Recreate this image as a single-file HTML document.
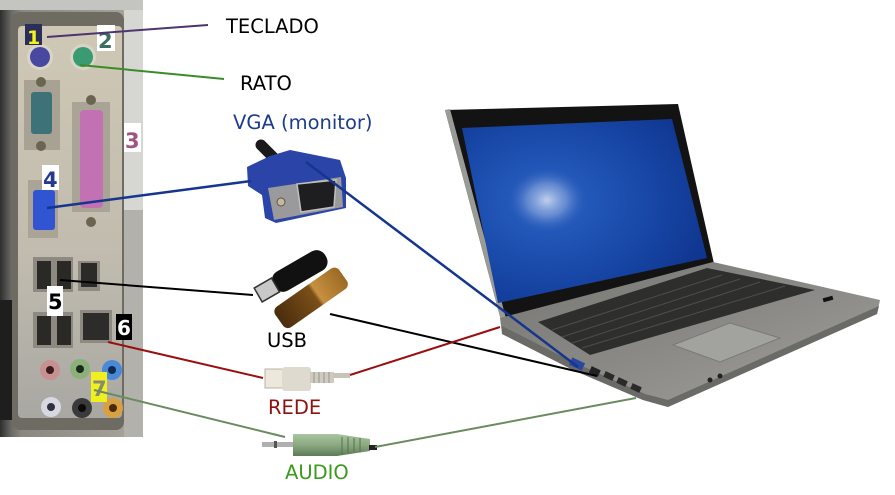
<!DOCTYPE html>
<html><head><meta charset="utf-8"><style>
html,body{margin:0;padding:0;background:#fff;}
svg{display:block;}
text{font-family:"DejaVu Sans","Liberation Sans",sans-serif;}
</style></head><body>
<svg width="895" height="495" viewBox="0 0 895 495" xmlns="http://www.w3.org/2000/svg">
<defs>
<linearGradient id="pl" x1="0" y1="0" x2="1" y2="0">
<stop offset="0" stop-color="#2e2e2c"/><stop offset="0.08" stop-color="#6a6a66"/><stop offset="0.15" stop-color="#8a8780"/><stop offset="1" stop-color="#a9a69e"/>
</linearGradient>
<linearGradient id="plate" x1="0" y1="0" x2="0" y2="1">
<stop offset="0" stop-color="#cfc8b5"/><stop offset="0.6" stop-color="#c0bbae"/><stop offset="1" stop-color="#a8a7a2"/>
</linearGradient>
<radialGradient id="scr" cx="0.35" cy="0.45" r="0.8">
<stop offset="0" stop-color="#2a62c4"/><stop offset="0.5" stop-color="#1848a8"/><stop offset="1" stop-color="#0c2f86"/>
</radialGradient>
<radialGradient id="spot" cx="0.5" cy="0.5" r="0.5">
<stop offset="0" stop-color="#c8d6ee" stop-opacity="0.95"/><stop offset="0.5" stop-color="#8aa6dc" stop-opacity="0.6"/><stop offset="1" stop-color="#2a5ab8" stop-opacity="0"/>
</radialGradient>
<linearGradient id="base" x1="0" y1="0" x2="1" y2="1">
<stop offset="0" stop-color="#767672"/><stop offset="0.5" stop-color="#8a8985"/><stop offset="1" stop-color="#a3a29d"/>
</linearGradient>
<linearGradient id="usbb" x1="0" y1="0" x2="1" y2="0">
<stop offset="0" stop-color="#4a2c0c"/><stop offset="0.55" stop-color="#7a5018"/><stop offset="0.6" stop-color="#c89040"/><stop offset="1" stop-color="#9a6a24"/>
</linearGradient>
<linearGradient id="grn" x1="0" y1="0" x2="0" y2="1">
<stop offset="0" stop-color="#a8c4a0"/><stop offset="0.5" stop-color="#8aaa80"/><stop offset="1" stop-color="#5e7a58"/>
</linearGradient>
</defs>

<!-- PC back panel -->
<rect x="0" y="0" width="143" height="437" fill="url(#pl)"/>
<rect x="0" y="0" width="143" height="10" fill="#c4c4c0"/>
<rect x="0" y="300" width="28" height="120" fill="#1e1e1e"/>
<rect x="12" y="12" width="112" height="418" rx="8" fill="#6e6b62"/>
<rect x="18" y="26" width="104" height="392" rx="4" fill="url(#plate)"/>
<rect x="124" y="10" width="19" height="200" fill="#d6d6d2"/>
<rect x="124" y="210" width="19" height="227" fill="#b2b1ac"/>

<!-- PS2 -->
<circle cx="40" cy="57" r="13" fill="#d8d4c8"/>
<circle cx="40" cy="57" r="10" fill="#4848a0"/>
<circle cx="83" cy="57" r="13" fill="#d8d4c8"/>
<circle cx="83" cy="57" r="10" fill="#3a9a72"/>
<rect x="25" y="24" width="17" height="21" fill="#2a2e5a"/>
<text x="27" y="44" font-size="19" font-weight="bold" fill="#f2f21c">1</text>
<rect x="97" y="25" width="18" height="26" fill="#fff"/>
<text x="98" y="48" font-size="21" font-weight="bold" fill="#3c6c62">2</text>

<!-- serial -->
<rect x="24" y="80" width="36" height="70" fill="#a8a294"/>
<rect x="31" y="92" width="21" height="42" rx="3" fill="#3c7278"/>
<circle cx="41" cy="82" r="5" fill="#6a6450"/>
<circle cx="41" cy="146" r="5" fill="#6a6450"/>

<!-- parallel -->
<rect x="72" y="102" width="38" height="110" fill="#aaa497"/>
<rect x="80" y="110" width="23" height="98" rx="4" fill="#c272b2"/>
<circle cx="91" cy="100" r="5" fill="#6a6450"/>
<circle cx="91" cy="222" r="5" fill="#6a6450"/>
<rect x="124" y="123" width="17" height="29" fill="#fff"/>
<text x="125" y="148" font-size="21" font-weight="bold" fill="#a05482">3</text>

<!-- VGA -->
<rect x="28" y="180" width="30" height="58" fill="#aaa497"/>
<rect x="33" y="190" width="22" height="40" rx="3" fill="#3054d2"/>
<rect x="42" y="165" width="17" height="25" fill="#fff"/>
<text x="43" y="187" font-size="21" font-weight="bold" fill="#263a8e">4</text>

<!-- USB / LAN -->
<rect x="33" y="257" width="40" height="35" fill="#8e8a82"/>
<rect x="37" y="261" width="14" height="28" fill="#2a2926"/>
<rect x="57" y="261" width="14" height="28" fill="#2a2926"/>
<rect x="78" y="261" width="22" height="30" fill="#8e8a82"/>
<rect x="81" y="263" width="16" height="24" fill="#2c2a28"/>
<rect x="33" y="312" width="40" height="36" fill="#8e8a82"/>
<rect x="37" y="316" width="14" height="29" fill="#2a2926"/>
<rect x="57" y="316" width="14" height="29" fill="#2a2926"/>
<rect x="80" y="310" width="32" height="33" fill="#8e8a82"/>
<rect x="83" y="313" width="26" height="27" fill="#2e2c2a"/>
<rect x="47" y="286" width="16" height="30" fill="#fff"/>
<text x="48" y="309" font-size="21" font-weight="bold" fill="#000">5</text>
<rect x="116" y="314" width="16" height="26" fill="#000"/>
<text x="117" y="335" font-size="20" font-weight="bold" fill="#fff">6</text>

<!-- audio -->
<circle cx="50" cy="370" r="10" fill="#c89090"/><circle cx="50" cy="370" r="4" fill="#3a1a1a"/>
<circle cx="80" cy="369" r="10" fill="#8cb07a"/><circle cx="80" cy="369" r="4" fill="#1a2a1a"/>
<circle cx="112" cy="370" r="10" fill="#4a88d8"/><circle cx="112" cy="370" r="4" fill="#102a50"/>
<circle cx="51" cy="407" r="10" fill="#d8d8e0"/><circle cx="51" cy="407" r="4" fill="#303040"/>
<circle cx="82" cy="408" r="10" fill="#3a3a3a"/><circle cx="82" cy="408" r="4" fill="#0a0a0a"/>
<circle cx="113" cy="408" r="10" fill="#d8a040"/><circle cx="113" cy="408" r="4" fill="#4a2a0a"/>
<rect x="91" y="372" width="16" height="30" fill="#f0f020"/>
<text x="92" y="396" font-size="21" font-weight="bold" fill="#8a8a70">7</text>

<!-- Laptop -->
<polygon points="445,110 678,104 715,268 502,324" fill="#131313"/>
<polygon points="445,110 450,109 507,322 502,324" fill="#9a9a96"/>
<polygon points="462,128 672,119 707,258 498,303" fill="url(#scr)"/>
<ellipse cx="547" cy="200" rx="40" ry="33" fill="url(#spot)"/>
<polygon points="500,318 713,262 880,300 877,314 668,407 643,400 573,370 502,334" fill="url(#base)"/>
<polygon points="502,326 573,362 645,394 668,400 879,306 877,314 668,407 643,400 573,370 502,334" fill="#6a6a66"/>
<polygon points="538,322 707,268 815,290 590,355" fill="#2e2e2d"/>
<g stroke="#56564f" stroke-width="1" opacity="0.8">
<line x1="552" y1="330" x2="722" y2="275"/>
<line x1="562" y1="337" x2="740" y2="279"/>
<line x1="572" y1="343" x2="760" y2="282"/>
<line x1="582" y1="348" x2="785" y2="286"/>
</g>
<polygon points="673,345 730,323 780,338 720,362" fill="#a2a29e" stroke="#7a7a76" stroke-width="1"/>
<rect x="570" y="360" width="14" height="8" fill="#2848a0" transform="rotate(25 577 364)"/>
<rect x="590" y="368" width="10" height="7" fill="#222" transform="rotate(25 595 371)"/>
<rect x="604" y="373" width="10" height="6" fill="#2a2a2a" transform="rotate(25 609 376)"/>
<rect x="617" y="379" width="10" height="6" fill="#2a2a2a" transform="rotate(25 622 382)"/>
<rect x="631" y="385" width="10" height="6" fill="#2a2a2a" transform="rotate(25 636 388)"/>
<circle cx="710" cy="380" r="2.5" fill="#222"/>
<circle cx="720" cy="376" r="2.5" fill="#222"/>
<rect x="823" y="297" width="10" height="4" fill="#111" transform="rotate(-15 828 299)"/>

<!-- VGA connector -->
<line x1="261" y1="145" x2="276" y2="160" stroke="#1a1a1a" stroke-width="11" stroke-linecap="round"/>
<polygon points="247,167 270,156 290,150 340,160 346,178 346,208 276,223 265,218 262,195 248,186" fill="#2a44a8"/>
<polygon points="268,188 341,177 343,207 274,220" fill="#9a9a9c"/>
<polygon points="297,184 336,180 334,207 301,212" fill="#1e1e20" stroke="#c0c0c0" stroke-width="1.5"/>
<circle cx="281" cy="202" r="4" fill="#c8b89a" stroke="#555" stroke-width="1"/>

<!-- USB stick -->
<g transform="rotate(-30 298 272)">
<rect x="270" y="261" width="60" height="22" rx="10" fill="#111"/>
<rect x="252" y="264" width="20" height="16" fill="#c8c8c8" stroke="#333" stroke-width="1.5"/>
</g>
<!-- USB brown connector -->
<g transform="rotate(-35 310 298)">
<rect x="272" y="286" width="78" height="25" rx="6" fill="url(#usbb)"/>
</g>

<!-- RJ45 -->
<rect x="265" y="369" width="18" height="19" fill="#ece8dc" stroke="#b8b2a4" stroke-width="1"/>
<rect x="282" y="367" width="29" height="24" rx="3" fill="#dedad0"/>
<rect x="310" y="372" width="24" height="11" fill="#cfcbc0"/>
<g stroke="#9a968c" stroke-width="1"><line x1="314" y1="372" x2="314" y2="383"/><line x1="319" y1="372" x2="319" y2="383"/><line x1="324" y1="372" x2="324" y2="383"/><line x1="329" y1="372" x2="329" y2="383"/></g>
<rect x="333" y="373" width="17" height="5" fill="#c8c4b8"/>

<!-- Audio jack -->
<rect x="262" y="442" width="32" height="5" fill="#b0b0b0"/>
<rect x="274" y="441" width="3" height="7" fill="#555"/>
<polygon points="293,434 337,434 370,439 370,451 337,456 293,456" fill="url(#grn)"/>
<g stroke="#56704e" stroke-width="1"><line x1="342" y1="437" x2="342" y2="454"/><line x1="348" y1="437" x2="348" y2="453"/><line x1="354" y1="438" x2="354" y2="452"/><line x1="360" y1="438" x2="360" y2="452"/></g>
<rect x="369" y="445" width="8" height="5" fill="#222"/>

<!-- connector lines -->
<line x1="47" y1="37" x2="208" y2="25" stroke="#4e3470" stroke-width="2"/>
<line x1="80" y1="65" x2="224" y2="79" stroke="#3a8c2a" stroke-width="2"/>
<line x1="47" y1="208" x2="251" y2="181" stroke="#15368c" stroke-width="2.5"/>
<line x1="306" y1="162" x2="578" y2="367" stroke="#15368c" stroke-width="2.5"/>
<line x1="60" y1="280" x2="253" y2="295" stroke="#000" stroke-width="2"/>
<line x1="330" y1="314" x2="597" y2="376" stroke="#000" stroke-width="2"/>
<line x1="108" y1="342" x2="263" y2="378" stroke="#9a0e0e" stroke-width="2"/>
<line x1="350" y1="375" x2="500" y2="327" stroke="#9a0e0e" stroke-width="2"/>
<line x1="94" y1="390" x2="285" y2="437" stroke="#6a8a60" stroke-width="2"/>
<line x1="375" y1="447" x2="636" y2="398" stroke="#6a8a60" stroke-width="2"/>

<!-- labels -->
<text x="226" y="33" font-size="19.5" fill="#000">TECLADO</text>
<text x="240" y="90" font-size="19.5" fill="#000">RATO</text>
<text x="233" y="129" font-size="19.5" fill="#1e3c8c">VGA (monitor)</text>
<text x="267" y="347" font-size="19.5" fill="#000">USB</text>
<text x="268" y="414" font-size="19.5" fill="#8e1212">REDE</text>
<text x="285" y="479" font-size="19.5" fill="#3c9a1c">AUDIO</text>
</svg>
</body></html>
